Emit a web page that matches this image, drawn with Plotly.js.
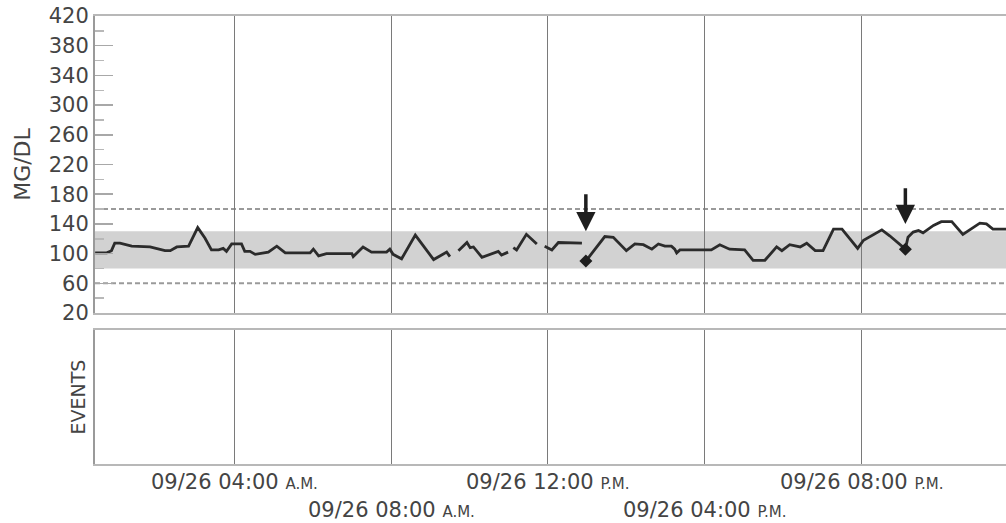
<!DOCTYPE html>
<html>
<head>
<meta charset="utf-8">
<script src="https://cdn.plot.ly/plotly-3.0.1.min.js"></script>
<style>html,body{margin:0;padding:0;background:#fff;}#chart{width:1006px;height:523px;}</style>
</head>
<body>
<div id="chart"></div>
<script>
// ---- data ----
const day = '2024-09-26';
const times = ['00:27','00:45','00:52','00:57','01:05','01:23','01:51','02:14','02:22','02:32','02:50','03:04','03:15','03:25','03:36','03:43','03:48','03:56','04:11','04:16','04:24','04:32','04:52','05:05','05:18','05:56','06:01','06:09','06:21','07:00','07:02','07:17','07:30','07:53','07:58','08:03','08:16','08:37','09:05','09:25','09:30','09:36','09:43','09:56','10:01','10:06','10:19','10:31','10:44','10:49','10:59','11:03','11:07','11:12','11:27','11:43','11:49','11:55','12:06','12:16','12:52','12:55','12:58','13:27','13:40','14:00','14:13','14:26','14:39','14:49','14:59','15:09','15:14','15:17','15:22','16:10','16:23','16:38','17:01','17:14','17:32','17:50','17:58','18:10','18:26','18:36','18:49','19:01','19:17','19:30','19:54','20:03','20:31','20:43','21:07','21:11','21:19','21:27','21:34','21:50','22:02','22:18','22:35','23:01','23:11','23:21','23:50'];
const glucose = [101,101,104,114,114,110,109,104,104,109,110,135,121,105,105,107,103,113,113,103,103,99,102,110,101,101,106,97,100,100,96,109,102,102,106,99,93,125,92,102,96,null,104,115,108,109,95,99,103,98,102,null,108,105,126,113,null,110,105,115,114,null,90,123,122,104,113,112,106,113,110,110,106,101,105,105,112,106,105,91,91,109,104,112,109,114,104,104,133,133,107,118,132,124,106,122,129,131,128,138,143,143,126,141,140,133,133];
const calTimes = ['12:58','21:07'];
const calValues = [90,106];
const arrowTips = [130,140];
const arrowTails = [182,190];
const targetLow = 80, targetHigh = 130;
const limitLow = 60, limitHigh = 160;
const gridTimes = ['04:00','08:00','12:00','16:00','20:00'];
const tickLabels = ['09/26 04:00 A.M.','09/26 08:00 A.M.','09/26 12:00 P.M.','09/26 04:00 P.M.','09/26 08:00 P.M.'];
const yTicks = [20,60,100,140,180,220,260,300,340,380,420];
const xStart = '00:26:48', xEnd = '23:41:00';

const dt = t => day + ' ' + t;

const traces = [
  {x: times.map(dt), y: glucose, xaxis:'x', yaxis:'y', type:'scatter', mode:'lines',
   line:{color:'#2b2b2b', width:2.8}, connectgaps:false, hoverinfo:'skip'},
  {x: calTimes.map(dt), y: calValues, xaxis:'x', yaxis:'y', type:'scatter', mode:'markers',
   marker:{symbol:'diamond', size:10, color:'#1e1e1e'}, hoverinfo:'skip'},
  {x: [dt(xStart)], y:[null], xaxis:'x2', yaxis:'y2', type:'scatter', mode:'lines', hoverinfo:'skip'}
];

const shapes = [
  {type:'rect', xref:'x domain', yref:'y', x0:0, x1:1, y0:targetLow, y1:targetHigh, fillcolor:'#d2d2d2', line:{width:0}, layer:'below'},
  {type:'line', xref:'x domain', yref:'y', x0:0, x1:1, y0:limitHigh, y1:limitHigh, line:{color:'#9a9a9a', width:2, dash:'5px,3px'}, layer:'below'},
  {type:'line', xref:'x domain', yref:'y', x0:0, x1:1, y0:limitLow, y1:limitLow, line:{color:'#9a9a9a', width:2, dash:'5px,3px'}, layer:'below'}
];

const annotations = [];
tickLabels.forEach((lab, i) => {
  const parts = lab.split(' ');
  const suffix = parts.pop();
  annotations.push({
    xref:'x2', yref:'paper', x: dt(gridTimes[i]), y:0, yanchor:'middle', xanchor:'center',
    yshift: (i % 2 === 0) ? -18 : -46,
    text: parts.join(' ') + ' <span style="font-size:15px">' + suffix + '</span>',
    showarrow:false, font:{family:'DejaVu Sans', size:21, color:'#444'}
  });
});
calTimes.forEach((t, i) => {
  annotations.push({
    xref:'x', yref:'y', x: dt(t), y: arrowTips[i], axref:'pixel', ayref:'y', ax:0, ay: arrowTails[i],
    text:'', showarrow:true, arrowhead:2, arrowsize:1.1, arrowwidth:3.5, arrowcolor:'#1e1e1e', standoff:0
  });
});

const xCommon = {
  type:'date', range:[dt(xStart), dt(xEnd)], tickvals: gridTimes.map(dt), showticklabels:false,
  ticks:'', showgrid:true, gridcolor:'#7a7a7a', gridwidth:1, zeroline:false,
  showline:true, linecolor:'#b8b8b8', linewidth:2, mirror:true
};

const layout = {
  width:1006, height:523,
  margin:{l:95, r:0, t:16, b:59},
  paper_bgcolor:'#ffffff', plot_bgcolor:'#ffffff',
  showlegend:false,
  font:{family:'DejaVu Sans', color:'#444', size:20},
  xaxis: Object.assign({}, xCommon, {anchor:'y', domain:[0,1]}),
  xaxis2: Object.assign({}, xCommon, {anchor:'y2', domain:[0,1]}),
  yaxis:{
    domain:[0.337,1], range:[20,420], anchor:'x', tickmode:'array', tickvals:yTicks,
    ticks:'inside', ticklen:18, tickwidth:1.5, tickcolor:'#a8a8a8',
    minor:{ticks:'inside', ticklen:9, tickwidth:1.5, tickcolor:'#b8b8b8', tick0:0, dtick:20, showgrid:false},
    tickfont:{size:21, color:'#444'}, showgrid:false, zeroline:false,
    showline:true, linecolor:'#9a9a9a', linewidth:2, mirror:true,
    title:{text:'MG/DL', font:{size:22, color:'#444'}, standoff:12}
  },
  yaxis2:{
    domain:[0,0.299], range:[0,1], anchor:'x2', showticklabels:false, ticks:'', showgrid:false, zeroline:false,
    showline:true, linecolor:'#9a9a9a', linewidth:2, mirror:true,
    title:{text:'EVENTS', font:{size:19, color:'#444'}, standoff:2}
  },
  shapes: shapes,
  annotations: annotations
};

Plotly.newPlot('chart', traces, layout, {staticPlot:true, displayModeBar:false});
</script>
</body>
</html>
